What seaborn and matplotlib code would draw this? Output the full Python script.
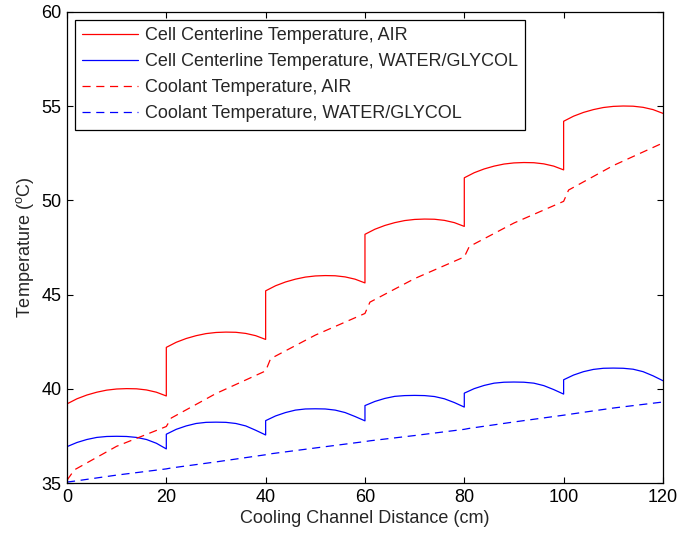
import matplotlib
matplotlib.use("Agg")
import matplotlib.pyplot as plt
import seaborn as sns

# cell centerline temperature, sampled every 2 cm inside each 20 cm cell
cell_dist = [0, 2, 4, 6, 8, 10, 12, 14, 16, 18, 20,
             20, 22, 24, 26, 28, 30, 32, 34, 36, 38, 40,
             40, 42, 44, 46, 48, 50, 52, 54, 56, 58, 60,
             60, 62, 64, 66, 68, 70, 72, 74, 76, 78, 80,
             80, 82, 84, 86, 88, 90, 92, 94, 96, 98, 100,
             100, 102, 104, 106, 108, 110, 112, 114, 116, 118, 120]

cell_air = [39.20, 39.47, 39.67, 39.82, 39.93, 39.99, 40.01, 40.00, 39.94, 39.82, 39.62,
            42.20, 42.47, 42.67, 42.82, 42.93, 42.99, 43.01, 43.00, 42.94, 42.82, 42.62,
            45.20, 45.47, 45.67, 45.82, 45.93, 45.99, 46.01, 46.00, 45.94, 45.82, 45.62,
            48.20, 48.47, 48.67, 48.82, 48.93, 48.99, 49.01, 49.00, 48.94, 48.82, 48.62,
            51.20, 51.47, 51.67, 51.82, 51.93, 51.99, 52.01, 52.00, 51.94, 51.82, 51.62,
            54.20, 54.47, 54.67, 54.82, 54.93, 54.99, 55.01, 55.00, 54.94, 54.82, 54.62]

cell_water = [36.93, 37.15, 37.31, 37.42, 37.47, 37.48, 37.47, 37.42, 37.31, 37.11, 36.81,
              37.59, 37.85, 38.03, 38.16, 38.22, 38.23, 38.22, 38.16, 38.03, 37.80, 37.55,
              38.31, 38.56, 38.74, 38.87, 38.93, 38.94, 38.93, 38.87, 38.74, 38.53, 38.30,
              39.11, 39.33, 39.49, 39.60, 39.64, 39.65, 39.64, 39.59, 39.47, 39.27, 39.03,
              39.77, 40.01, 40.18, 40.30, 40.35, 40.36, 40.35, 40.30, 40.17, 39.96, 39.72,
              40.48, 40.73, 40.91, 41.03, 41.09, 41.10, 41.09, 41.04, 40.91, 40.69, 40.43]

# coolant temperature
cool_dist = [0, 1.5, 10, 20, 21, 30, 40, 41, 50, 60, 61, 70, 80, 81, 90, 100, 101, 110, 120]
cool_air = [35.15, 35.70, 36.95, 38.00, 38.45, 39.75, 40.95, 41.60, 42.85, 44.00,
            44.60, 45.85, 47.00, 47.55, 48.80, 49.95, 50.55, 51.85, 53.05]
cool_water = [35.05, 35.10, 35.42, 35.75, 35.80, 36.12, 36.50, 36.55, 36.86, 37.20,
              37.24, 37.52, 37.85, 37.90, 38.24, 38.60, 38.64, 38.98, 39.30]

x_ticks = [0, 20, 40, 60, 80, 100, 120]
y_ticks = [35, 40, 45, 50, 55, 60]

sns.set_style("ticks")
plt.rcParams["font.family"] = ["Liberation Sans", "DejaVu Sans"]
plt.rcParams["mathtext.fontset"] = "custom"
plt.rcParams["mathtext.rm"] = "Liberation Sans"
fs = 13

fig = plt.figure(figsize=(6.78, 5.38), dpi=100)
ax = fig.add_axes([0.0988, 0.1022, 0.879, 0.8755])

lw = 0.9
sns.lineplot(x=cell_dist, y=cell_air, sort=False, estimator=None, color="#ff0000",
             lw=lw, label="Cell Centerline Temperature, AIR", ax=ax)
sns.lineplot(x=cell_dist, y=cell_water, sort=False, estimator=None, color="#0000ff",
             lw=lw, label="Cell Centerline Temperature, WATER/GLYCOL", ax=ax)
sns.lineplot(x=cool_dist, y=cool_air, sort=False, estimator=None, color="#ff0000",
             lw=lw, label="Coolant Temperature, AIR", ax=ax)
sns.lineplot(x=cool_dist, y=cool_water, sort=False, estimator=None, color="#0000ff",
             lw=lw, label="Coolant Temperature, WATER/GLYCOL", ax=ax)
for line in ax.get_lines()[2:4]:
    line.set_dashes((6.5, 4.5))

ax.set_xlim(0, 120)
ax.set_ylim(35, 60)
ax.set_xticks(x_ticks)
ax.set_yticks(y_ticks)
ax.set_xlabel("Cooling Channel Distance (cm)", fontsize=fs, labelpad=3)
ax.set_ylabel("Temperature ($^{\\mathrm{o}}$C)", fontsize=fs)
ax.tick_params(direction="in", length=4, width=0.8, top=True, right=True,
               labelsize=fs, colors="black", pad=4)
for sp in ax.spines.values():
    sp.set_visible(True)
    sp.set_color("black")
    sp.set_linewidth(0.9)

leg = ax.legend(loc="upper left", fontsize=fs, frameon=True, fancybox=False,
                edgecolor="black", framealpha=1, borderaxespad=0.45,
                handlelength=3.1, handletextpad=0.35, labelspacing=0.5,
                borderpad=0.4)
leg.get_frame().set_linewidth(0.9)

fig.savefig("out.png", dpi=100)
